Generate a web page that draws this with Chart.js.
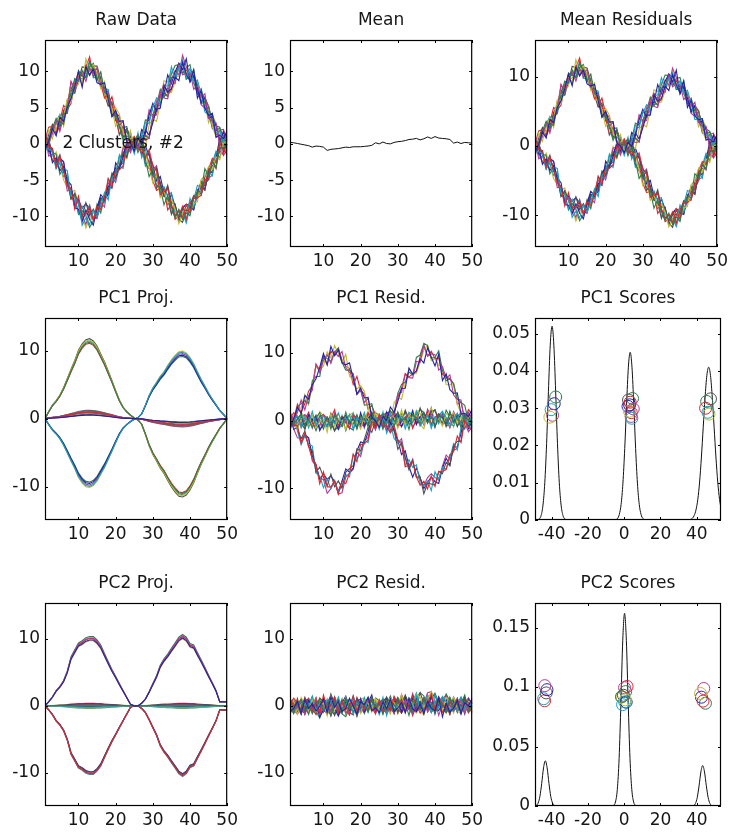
<!DOCTYPE html>
<html>
<head>
<meta charset="utf-8">
<title>PCA panels</title>
<script src="https://cdn.jsdelivr.net/npm/chart.js@4.4.1/dist/chart.umd.min.js"></script>
<style>
  html, body { margin: 0; padding: 0; background: #fff; }
  body { width: 732px; height: 832px; position: relative; overflow: hidden; }
  canvas { position: absolute; }
</style>
</head>
<body>
<canvas id="rawChart"></canvas>
<canvas id="meanChart"></canvas>
<canvas id="meanResidChart"></canvas>
<canvas id="pc1ProjChart"></canvas>
<canvas id="pc1ResidChart"></canvas>
<canvas id="pc1ScoreChart"></canvas>
<canvas id="pc2ProjChart"></canvas>
<canvas id="pc2ResidChart"></canvas>
<canvas id="pc2ScoreChart"></canvas>
<script>
// ===== DATA =====
const xIndex = [1,2,3,4,5,6,7,8,9,10,11,12,13,14,15,16,17,18,19,20,21,22,23,24,25,
  26,27,28,29,30,31,32,33,34,35,36,37,38,39,40,41,42,43,44,45,46,47,48,49,50];

// raw curves, four shapes (up/down, down/up, up/up, down/down)
const rawA1 = [1.0,.6,2.2,3.5,2.5,4.2,4.2,7.1,9.0,8.6,10.1,9.1,11.3,10.2,8.8,9.9,7.1,6.7,3.7,4.2,2.4,.5,1.8,.2,.4,-1.2,-.1,-2.1,-4.5,-3.5,-5.7,-6.0,-8.4,-7.1,-8.7,-10.2,-9.0,-10.4,-9.5,-9.9,-7.4,-6.6,-6.5,-3.4,-4.5,-2.4,-3.3,-.6,-.5,-.6];
const rawA2 = [-.4,2.0,.7,2.8,3.8,3.7,6.2,5.8,7.9,9.6,8.2,11.7,10.0,10.9,9.8,7.6,8.6,5.7,4.9,2.4,3.1,1.7,.2,1.8,-.7,.5,-.9,-1.2,-3.3,-5.4,-4.2,-7.4,-6.5,-8.2,-7.6,-9.0,-11.0,-9.7,-8.4,-9.4,-8.2,-8.0,-4.9,-4.4,-3.1,-3.5,-1.8,-2.2,.1,.4];
const rawA3 = [.5,2.3,2.4,1.5,3.2,5.3,4.7,5.6,8.3,9.9,9.3,10.6,12.0,9.3,10.0,8.2,6.3,7.0,5.3,3.7,1.3,2.4,.5,-.5,1.0,.2,-1.3,-1.5,-2.5,-5.1,-6.4,-6.1,-6.2,-9.1,-8.3,-10.4,-9.9,-8.6,-10.4,-8.4,-7.1,-7.5,-5.4,-5.8,-3.5,-2.0,-2.6,-1.0,-1.5,.9];
const rawA4 = [-.9,1.3,2.7,2.1,2.1,4.6,5.4,7.8,7.0,8.8,10.6,10.5,9.5,10.7,10.7,8.9,6.8,5.2,5.8,3.2,2.7,.9,2.1,.8,-1.0,.8,.4,-2.7,-3.4,-3.8,-6.1,-5.3,-7.2,-7.6,-9.7,-8.4,-10.4,-10.8,-9.2,-7.9,-8.9,-6.3,-6.9,-4.6,-3.3,-4.0,-1.3,-.8,0,-.8];
const rawA5 = [.7,.3,1.7,3.1,4.1,3.1,5.6,6.2,8.7,9.3,8.9,9.8,11.5,9.1,9.2,9.3,7.6,7.5,4.4,3.9,1.2,1.9,.9,1.5,-.3,-.6,-.4,-3.1,-2.3,-4.5,-4.7,-6.9,-6.0,-7.3,-9.3,-9.9,-9.4,-9.5,-10.9,-8.7,-7.6,-5.7,-6.0,-5.3,-5.0,-2.6,-1.0,-1.9,-.1,.3];

const rawB1 = [-.5,-.7,-1.0,-3.4,-2.6,-4.5,-4.1,-7.2,-7.4,-8.2,-11.2,-10.2,-11.1,-9.2,-10.1,-8.5,-6.7,-7.7,-4.7,-4.1,-1.5,-2.6,-1.0,.3,-1.4,.7,.4,3.0,2.8,5.0,6.3,5.4,7.9,8.0,10.6,8.9,10.4,11.5,9.1,10.4,8.3,8.8,6.9,4.4,4.0,4.2,1.5,1.7,.3,.9];
const rawB2 = [.5,0,-2.6,-1.9,-3.7,-3.1,-5.1,-5.6,-8.8,-9.0,-10.7,-9.1,-10.4,-11.2,-8.9,-7.4,-7.8,-5.8,-6.1,-2.6,-3.4,-1.4,-.1,-.5,.4,-.4,2.0,1.4,4.0,5.6,4.5,6.6,6.9,9.5,8.3,9.9,11.1,10.2,11.7,8.5,9.3,7.7,5.6,6.4,3.5,3.8,2.5,.2,1.7,-.5];
const rawB3 = [1.0,-1.7,-1.4,-2.7,-2.2,-3.5,-6.5,-6.1,-8.3,-7.9,-9.7,-11.1,-9.3,-10.1,-10.3,-8.1,-8.7,-5.5,-4.8,-4.8,-3.1,-.6,-.4,-.9,.1,1.3,-.4,1.7,4.7,3.9,5.8,7.0,8.2,7.2,8.9,10.1,9.5,12.2,10.6,9.6,9.6,8.1,5.4,4.9,5.1,3.2,1.2,1.9,2.0,.4];
const rawB4 = [-.7,-.1,-1.2,-1.4,-4.2,-3.3,-5.3,-7.6,-7.1,-9.7,-9.2,-9.9,-11.5,-10.6,-8.3,-9.5,-7.2,-6.5,-4.0,-4.5,-1.8,-1.5,-1.6,.9,.7,-.7,1.0,3.3,3.2,5.2,5.3,7.5,6.4,7.7,9.6,10.8,10.9,9.7,10.5,10.9,8.5,6.8,7.6,5.6,4.4,2.1,1.8,2.2,1.0,-1.0];
const rawB5 = [.4,-.3,-2.3,-1.1,-2.8,-5.0,-6.0,-6.7,-6.4,-8.4,-9.9,-11.6,-10.2,-9.5,-9.8,-9.0,-6.9,-5.3,-5.6,-3.1,-2.5,-.4,-2.0,0,-.8,0,1.7,2.1,4.2,3.7,6.0,6.1,8.7,8.5,10.0,9.3,9.3,11.7,9.8,9.2,9.0,8.5,6.0,5.8,2.9,4.1,2.8,1.2,0,.6];

const rawC1 = [-.7,.4,2.1,1.1,3.7,3.1,5.1,6.2,7.9,9.9,7.8,10.7,9.4,10.3,8.4,8.2,8.4,6.1,3.8,4.6,3.1,3.2,.3,.1,-1.0,.8,0,1.9,1.2,2.9,4.8,4.9,8.0,7.1,7.6,9.2,8.7,11.2,9.6,8.6,10.2,6.3,7.3,4.9,3.9,4.2,.9,1.2,.7,1.8];
const rawC2 = [1.5,.2,1.4,3.2,1.7,3.8,4.5,8.6,7.4,9.2,9.7,8.6,10.4,9.7,10.5,8.1,7.3,7.1,3.9,4.5,2.5,3.1,.5,.4,.7,-.6,.9,.5,.8,3.8,4.0,6.7,6.3,6.2,8.7,8.3,10.9,9.5,9.7,9.9,7.5,8.1,6.4,6.9,3.5,3.1,2.9,-.3,1.1,.4];
const rawC3 = [-.1,-.3,2.3,2.7,3.1,2.7,6.0,6.9,7.0,10.1,9.3,9.1,10.6,11.1,9.1,7.9,7.8,7.1,4.0,4.5,2.2,2.2,2.4,-.2,.5,1.2,-.3,1.1,.8,3.8,5.1,5.4,7.0,6.5,9.1,9.2,11.0,10.9,8.9,9.3,10.2,7.4,5.9,6.3,5.1,3.1,2.5,2.3,-.1,1.2];
const rawC4 = [.8,-.3,1.7,2.0,3.9,2.4,5.2,8.1,7.6,8.2,9.9,9.2,11.1,9.9,8.7,9.9,6.6,5.9,4.6,5.0,4.1,1.8,.3,.7,1.0,-.4,.1,-.4,2.6,3.4,3.1,5.5,7.7,6.9,7.1,8.5,10.4,11.4,8.9,9.5,8.4,8.2,5.6,5.5,5.3,2.5,.9,1.2,.5,-.2];
const rawC5 = [-.4,.4,2.6,1.3,2.6,4.4,5.1,8.5,7.7,9.6,8.1,10.3,10.0,10.9,9.1,8.2,7.8,5.4,6.5,4.3,3.8,1.5,2.1,1.0,-.6,-.1,1.1,1.2,.8,3.4,4.7,6.9,6.5,6.9,7.4,9.2,11.0,9.7,10.2,9.4,9.4,7.0,6.7,6.4,5.2,2.4,2.6,.3,1.7,1.0];

const rawD1 = [1.3,-.4,-.6,-3.2,-1.7,-3.7,-5.7,-6.2,-9.0,-7.2,-9.8,-9.6,-8.7,-10.6,-8.6,-9.0,-7.6,-4.8,-6.0,-3.6,-3.6,-3.0,-.3,-.4,.6,-.8,-.7,-1.9,-.8,-3.0,-3.7,-7.0,-6.6,-6.2,-8.4,-9.9,-9.2,-10.1,-8.4,-9.6,-7.5,-7.4,-7.1,-4.9,-4.9,-2.3,-3.4,.1,-.9,-1.4];
const rawD2 = [-1.2,.4,-1.1,-2.6,-1.5,-3.9,-4.6,-7.6,-6.8,-8.3,-10.0,-8.1,-9.9,-9.0,-10.0,-7.6,-7.2,-6.7,-4.3,-4.7,-3.0,-1.2,-1.9,.2,-.9,.7,.9,-1.5,-1.4,-4.2,-3.3,-5.5,-7.1,-5.7,-8.1,-8.3,-10.7,-8.9,-9.2,-9.1,-7.2,-7.5,-5.8,-6.4,-3.8,-3.0,-3.1,.7,-.7,-.1];
const rawD3 = [-.4,.5,-1.3,-3.4,-2.1,-3.3,-3.7,-7.4,-7.8,-9.5,-8.6,-9.8,-8.5,-10.2,-9.2,-7.6,-8.1,-4.8,-5.5,-4.9,-3.0,-3.4,-.5,-.2,-.6,1.5,-1.9,-.7,-2.8,-3.4,-3.3,-6.8,-5.9,-7.1,-6.7,-9.7,-9.9,-9.0,-10.6,-7.5,-8.7,-6.9,-7.1,-5.4,-3.7,-4.4,-1.2,-1.0,-.2,-1.6];
const rawD4 = [1.2,-1.1,-.8,-3.1,-2.0,-2.5,-5.3,-6.4,-8.5,-7.7,-8.9,-8.2,-9.0,-10.4,-8.8,-7.0,-7.6,-7.0,-4.5,-3.3,-3.5,-1.9,.3,-.8,.5,-.1,-1.5,-.3,-1.6,-2.9,-5.1,-4.5,-6.7,-8.3,-6.9,-8.6,-10.1,-8.9,-8.3,-8.7,-9.1,-6.8,-5.3,-6.3,-4.0,-3.9,-2.0,.8,-1.1,0];
const rawD5 = [1.1,-1.0,-2.3,-2.4,-2.0,-2.4,-5.8,-6.3,-8.0,-8.1,-10.5,-9.6,-8.4,-10.3,-10.1,-7.8,-7.4,-6.9,-4.5,-5.3,-3.1,-2.6,-.3,-1.2,.3,1.1,-1.0,-2.1,-1.2,-3.6,-3.0,-5.7,-7.2,-6.0,-8.7,-9.2,-10.1,-8.7,-8.3,-8.5,-9.0,-6.8,-5.1,-5.7,-4.7,-4.3,-1.5,-.3,-1.6,-.8];

const rawSeries = [
  rawC1, rawA1, rawD1, rawB1, rawC2, rawA2, rawD2, rawB2, rawC3, rawA3,
  rawD3, rawB3, rawC4, rawA4, rawD4, rawB4, rawC5, rawA5, rawD5, rawB5
];

const meanLine = [.2,.15,.05,-.05,-.15,-.25,-.45,-.3,-.35,-.45,-.9,-.75,-.7,-.65,-.55,-.45,-.5,-.4,-.4,-.4,-.35,-.3,-.2,.15,0,.25,.05,0,.2,.3,.35,.45,.6,.65,.75,.55,.7,.95,.75,1.0,.8,.75,.7,.6,.1,.25,.05,.2,.15,.1];

// principal component loadings and per-curve scores (same order as rawSeries)
const pc1Loading = [0,.022,.042,.056,.073,.096,.124,.153,.180,.211,.231,.244,.247,.240,.224,.200,.176,.147,.118,.087,.058,.036,.022,.011,.002,-.004,-.018,-.049,-.084,-.111,-.131,-.153,-.169,-.191,-.211,-.227,-.240,-.242,-.236,-.220,-.198,-.169,-.142,-.118,-.093,-.071,-.051,-.031,-.016,0];
const pc2Loading = [0,.014,.030,.051,.065,.084,.116,.163,.186,.209,.216,.226,.230,.230,.219,.202,.174,.147,.121,.098,.074,.051,.028,.005,0,0,.009,.023,.047,.074,.100,.135,.156,.172,.191,.209,.228,.237,.228,.207,.202,.177,.153,.128,.102,.077,.051,.014,.014,.014];

const pc1Scores = [2.1,45.5,3.9,-40.3,3.8,46.8,2.4,-38.6,4.6,44.9,4.2,-39.5,2.9,47.6,3.0,-37.8,3.3,46.2,5.0,-41.0];
const pc2Scores = [42.6,.8,-43.9,-.9,43.9,-1.2,-43.0,1.1,44.8,1.6,-44.4,.2,42.1,-.4,-42.6,-1.5,43.5,.3,-43.8,.6];
const pc1Jitter = [.0305,.0318,.0288,.0296,.0278,.0284,.0322,.0312,.0326,.0300,.0273,.0281,.0292,.0325,.0309,.0330,.0316,.0289,.0298,.0276];
const pc2Jitter = [.0915,.0962,.0885,.0852,.0988,.0917,.0951,.0874,.0864,.1005,.0902,.0995,.0946,.0931,.0978,.0918,.0882,.0875,.1012,.0893];

// score densities
const pc1DensX = [-49.2,-48.8,-47.8,-46.8,-45.8,-44.8,-43.8,-42.8,-41.8,-40.8,-39.8,-38.8,-37.8,-36.8,-35.8,-34.8,-33.8,-32.8,-31.8,-30.8,
  -5.7,-4.7,-3.7,-2.7,-1.7,-0.7,0.3,1.3,2.3,3.3,4.3,5.3,6.3,7.3,8.3,9.3,10.3,11.3,12.3,
  35.6,36.6,37.6,38.6,39.6,40.6,41.6,42.6,43.6,44.6,45.6,46.6,47.6,48.6,49.6,50.6,51.6,52.6,53.6];
const pc1DensY = [0,0,.0001,.0003,.00125,.004,.010,.0205,.0344,.0469,.052,.0469,.0344,.0205,.010,.004,.00125,.0003,.0001,0,
  0,.0001,.0004,.0015,.0042,.0099,.0192,.0308,.041,.045,.041,.0308,.0192,.0099,.0042,.0015,.0004,.0001,0,
  0,.00016,.00045,.0012,.0027,.0055,.0102,.0169,.0249,.0328,.0388,.041,.0388,.0328,.0249,.0169,.0102,.0055,.0027];
const pc2DensX = [-49.2,-48.5,-47.5,-46.5,-45.5,-44.5,-43.5,-42.5,-41.5,-40.5,-39.5,-38.5,-37.5,-36.5,
  -7.8,-6.8,-5.8,-4.8,-3.8,-2.8,-1.8,-0.8,0.2,1.2,2.2,3.2,4.2,5.2,6.2,7.2,8.2,
  36.3,37.3,38.3,39.3,40.3,41.3,42.3,43.3,44.3,45.3,46.3,47.3,48.3,49.3,50.3,53.4];
const pc2DensY = [.0002,.0005,.0024,.008,.019,.032,.038,.032,.019,.008,.0024,.0005,.0001,0,
  0,.0001,.0006,.0034,.0138,.040,.087,.139,.162,.139,.087,.040,.0138,.0034,.0006,.0001,0,
  0,.0001,.0004,.0021,.0072,.017,.0286,.034,.0286,.017,.0072,.0021,.0004,.0001,0,0];

// tick marks
const lineXTicks = [10,20,30,40,50];
const rawYTicks = [-10,-5,0,5,10];
const residYTicks = [-10,0,10];
const scoreXTicks = [-40,-20,0,20,40];
const pc1DensTicks = [0,0.01,0.02,0.03,0.04,0.05];
const pc2DensTicks = [0,0.05,0.1,0.15];

// ===== DERIVED SERIES =====
const meanResid = rawSeries.map((s) => s.map((v, i) => v - meanLine[i]));
const pc1Proj = pc1Scores.map((s) => pc1Loading.map((l) => s * l));
const pc1Resid = meanResid.map((r, k) => r.map((v, i) => v - pc1Proj[k][i]));
const pc2Proj = pc2Scores.map((s) => pc2Loading.map((l) => s * l));
const pc2Resid = pc1Resid.map((r, k) => r.map((v, i) => v - pc2Proj[k][i]));

// ===== STYLE =====
const lineColors = ['#2323a8', '#2d7c4c', '#e5232b', '#15a3c4', '#b53b97', '#c3ba2d', '#4e4e4e'];
const textColor = '#161616';
const fontFamily = '"DejaVu Sans", sans-serif';
Chart.defaults.font.family = fontFamily;
Chart.defaults.font.size = 17;
Chart.defaults.color = textColor;

const colLefts = [45, 290, 535];
const plotWidth = 186;
const rows = [{ top: 40, h: 207 }, { top: 318, h: 202 }, { top: 603, h: 203 }];
const PAD_LEFT = 45, PAD_TOP = 40, PAD_RIGHT = 11, PAD_BOTTOM = 32;

// box, inward ticks, title and optional text label
const framePlugin = {
  id: 'frame',
  afterDatasetsDraw(chart, args, opts) {
    const { ctx, chartArea: a, scales } = chart;
    ctx.save();
    ctx.strokeStyle = '#000';
    ctx.lineWidth = 1;
    ctx.beginPath();
    scales.x.ticks.forEach((t) => {
      const px = Math.round(scales.x.getPixelForValue(t.value)) + 0.5;
      ctx.moveTo(px, a.bottom); ctx.lineTo(px, a.bottom - 3);
      ctx.moveTo(px, a.top); ctx.lineTo(px, a.top + 3);
    });
    scales.y.ticks.forEach((t) => {
      const py = Math.round(scales.y.getPixelForValue(t.value)) + 0.5;
      ctx.moveTo(a.left, py); ctx.lineTo(a.left + 3, py);
      ctx.moveTo(a.right, py); ctx.lineTo(a.right - 3, py);
    });
    ctx.stroke();
    ctx.lineWidth = 1.2;
    ctx.strokeRect(a.left + 0.5, a.top + 0.5, a.right - a.left - 1, a.bottom - a.top - 1);

    ctx.fillStyle = textColor;
    ctx.font = '17px ' + fontFamily;
    ctx.textAlign = 'center';
    ctx.textBaseline = 'alphabetic';
    ctx.fillText(opts.title, (a.left + a.right) / 2, a.top - 15);

    if (opts.note) {
      ctx.textAlign = 'left';
      ctx.textBaseline = 'middle';
      ctx.fillText(opts.note.text, scales.x.getPixelForValue(opts.note.x), scales.y.getPixelForValue(opts.note.y));
    }
    ctx.restore();
  },
};

function toPoints(values) {
  return values.map((v, i) => ({ x: xIndex[i], y: v }));
}

function curveSets(series) {
  return series.map((s, k) => ({
    data: toPoints(s),
    borderColor: lineColors[k % lineColors.length],
    borderWidth: 1.1,
    pointRadius: 0,
    fill: false,
  }));
}

function scoreSets(scores, jitter, densX, densY) {
  return [
    {
      type: 'scatter',
      data: scores.map((s, k) => ({ x: s, y: jitter[k] })),
      pointRadius: 6,
      pointBorderWidth: 1,
      pointBorderColor: scores.map((s, k) => lineColors[k % lineColors.length]),
      pointBackgroundColor: 'rgba(0,0,0,0)',
      showLine: false,
    },
    {
      data: densX.map((x, i) => ({ x: x, y: densY[i] })),
      borderColor: '#111',
      borderWidth: 1,
      pointRadius: 0,
      cubicInterpolationMode: 'monotone',
      fill: false,
    },
  ];
}

// ===== BUILD ONE PANEL =====
function makePanel(id, col, row, panel) {
  const r = rows[row];
  const canvas = document.getElementById(id);
  canvas.width = PAD_LEFT + plotWidth + PAD_RIGHT;
  canvas.height = PAD_TOP + r.h + PAD_BOTTOM;
  canvas.style.left = (colLefts[col] - PAD_LEFT) + 'px';
  canvas.style.top = (r.top - PAD_TOP) + 'px';

  return new Chart(canvas.getContext('2d'), {
    type: 'line',
    data: { datasets: panel.datasets },
    options: {
      responsive: false,
      animation: false,
      events: [],
      layout: { padding: { left: 0, top: PAD_TOP, right: PAD_RIGHT, bottom: 0 } },
      plugins: {
        legend: { display: false },
        tooltip: { enabled: false },
        frame: { title: panel.title, note: panel.note },
      },
      scales: {
        x: {
          type: 'linear',
          min: panel.xRange[0],
          max: panel.xRange[1],
          grid: { display: false, drawTicks: false },
          border: { display: false },
          afterFit: (s) => { s.height = PAD_BOTTOM; },
          afterBuildTicks: (s) => { s.ticks = panel.xTicks.map((v) => ({ value: v })); },
          ticks: { padding: 4, maxRotation: 0, autoSkip: false, callback: (v) => String(v) },
        },
        y: {
          type: 'linear',
          min: panel.yRange[0],
          max: panel.yRange[1],
          grid: { display: false, drawTicks: false },
          border: { display: false },
          afterFit: (s) => { s.width = PAD_LEFT; },
          afterBuildTicks: (s) => { s.ticks = panel.yTicks.map((v) => ({ value: v })); },
          ticks: { padding: 5, autoSkip: false, callback: (v) => String(v) },
        },
      },
    },
    plugins: [framePlugin],
  });
}

// ===== DRAW ALL PANELS =====
makePanel('rawChart', 0, 0, {
  title: 'Raw Data', datasets: curveSets(rawSeries),
  xRange: [1, 50], yRange: [-14.2, 14.3], xTicks: lineXTicks, yTicks: rawYTicks,
  note: { text: '2 Clusters, #2', x: 5.7, y: 0 },
});
makePanel('meanChart', 1, 0, {
  title: 'Mean',
  datasets: [{ data: toPoints(meanLine), borderColor: '#111', borderWidth: 1, pointRadius: 0 }],
  xRange: [1, 50], yRange: [-14.2, 14.3], xTicks: lineXTicks, yTicks: rawYTicks,
});
makePanel('meanResidChart', 2, 0, {
  title: 'Mean Residuals', datasets: curveSets(meanResid),
  xRange: [1, 50], yRange: [-14.6, 15.3], xTicks: lineXTicks, yTicks: residYTicks,
});
makePanel('pc1ProjChart', 0, 1, {
  title: 'PC1 Proj.', datasets: curveSets(pc1Proj),
  xRange: [1, 50], yRange: [-14.9, 14.8], xTicks: lineXTicks, yTicks: residYTicks,
});
makePanel('pc1ResidChart', 1, 1, {
  title: 'PC1 Resid.', datasets: curveSets(pc1Resid),
  xRange: [1, 50], yRange: [-14.7, 15.15], xTicks: lineXTicks, yTicks: residYTicks,
});
makePanel('pc1ScoreChart', 2, 1, {
  title: 'PC1 Scores', datasets: scoreSets(pc1Scores, pc1Jitter, pc1DensX, pc1DensY),
  xRange: [-49.2, 53.4], yRange: [0, 0.0542], xTicks: scoreXTicks, yTicks: pc1DensTicks,
});
makePanel('pc2ProjChart', 0, 2, {
  title: 'PC2 Proj.', datasets: curveSets(pc2Proj),
  xRange: [1, 50], yRange: [-14.9, 15.3], xTicks: lineXTicks, yTicks: residYTicks,
});
makePanel('pc2ResidChart', 1, 2, {
  title: 'PC2 Resid.', datasets: curveSets(pc2Resid),
  xRange: [1, 50], yRange: [-14.9, 15.3], xTicks: lineXTicks, yTicks: residYTicks,
});
makePanel('pc2ScoreChart', 2, 2, {
  title: 'PC2 Scores', datasets: scoreSets(pc2Scores, pc2Jitter, pc2DensX, pc2DensY),
  xRange: [-49.2, 53.4], yRange: [0, 0.1707], xTicks: scoreXTicks, yTicks: pc2DensTicks,
});
</script>
</body>
</html>
